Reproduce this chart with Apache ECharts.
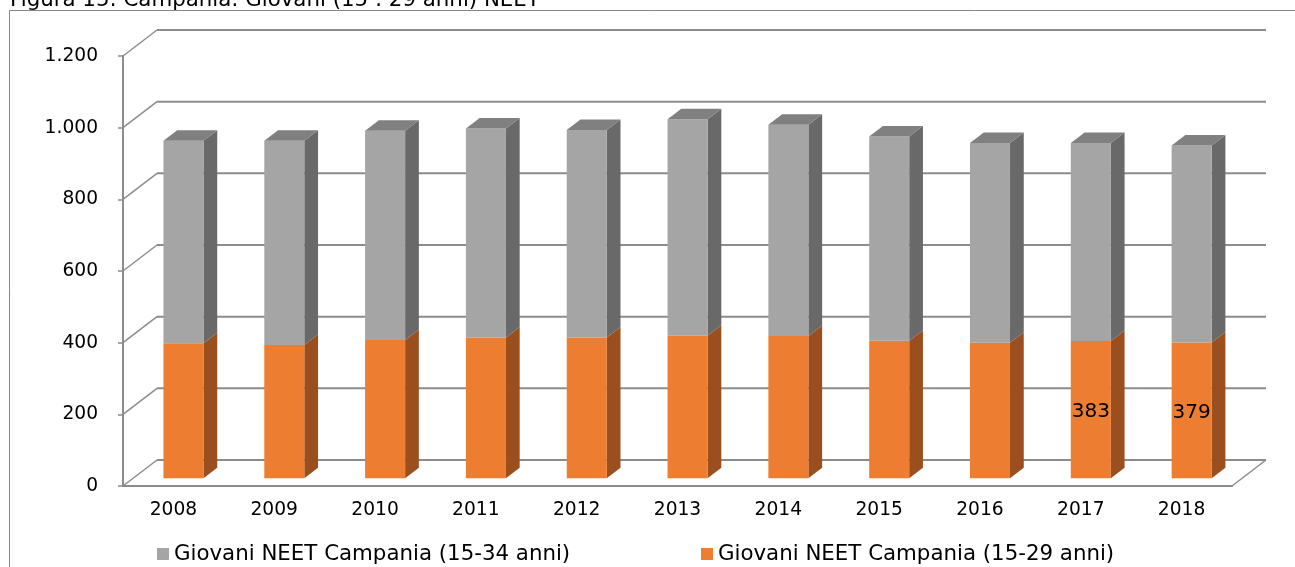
<!DOCTYPE html>
<html>
<head>
<meta charset="utf-8">
<title>Campania NEET</title>
<script src="https://cdn.jsdelivr.net/npm/echarts@6/dist/echarts.min.js"></script>
<style>
  html, body { margin: 0; padding: 0; background: #fff; }
  #chart { width: 1295px; height: 567px; }
</style>
</head>
<body>
<div id="chart"></div>
<script>
// dati (migliaia)
const years = ['2008', '2009', '2010', '2011', '2012', '2013', '2014', '2015', '2016', '2017', '2018'];
const neet1529 = [377, 372, 386, 393, 393, 398, 397, 384, 378, 383, 379];
const neet1534 = [565, 570, 584, 583, 579, 604, 590, 570, 558, 553, 550];
const yTicks = [0, 200, 400, 600, 800, 1000, 1200];
const labelledYears = ['2017', '2018'];

const name1534 = 'Giovani NEET Campania (15-34 anni)';
const name1529 = 'Giovani NEET Campania (15-29 anni)';
const FONT = '"DejaVu Sans", Verdana, sans-serif';

// profondità della "scatola" 3D
const DX = 34, DY = 26;
const F0 = 0.296, F1 = 0.70;   // posizione della colonna nella profondità
const BAR_W = 0.397;           // larghezza della faccia frontale (frazione della categoria)

function fmt(v) {
    if (v >= 1000) return Math.floor(v / 1000) + '.' + String(v % 1000).padStart(3, '0');
    return String(v);
}

function barItem(colors, withTop) {
    return function (params, api) {
        const i = api.value(0);
        const lo = api.coord([i, api.value(1)]);
        const hi = api.coord([i, api.value(2)]);
        const band = api.size([1, 0])[0];
        const w = band * BAR_W;
        const L = lo[0] + F0 * DX - w / 2;
        const R = L + w;
        const yB = lo[1] - F0 * DY;
        const yT = hi[1] - F0 * DY;
        const ddx = (F1 - F0) * DX, ddy = (F1 - F0) * DY;
        const children = [
            {
                type: 'polygon',
                shape: { points: [[R, yB], [R, yT], [R + ddx, yT - ddy], [R + ddx, yB - ddy]] },
                style: { fill: colors[1] }
            },
            {
                type: 'rect',
                shape: { x: L, y: yT, width: w, height: yB - yT },
                style: { fill: colors[0] }
            }
        ];
        if (withTop) {
            children.push({
                type: 'polygon',
                shape: { points: [[L, yT], [R, yT], [R + ddx, yT - ddy], [L + ddx, yT - ddy]] },
                style: { fill: colors[2] }
            });
        }
        if (!withTop && labelledYears.indexOf(years[i]) >= 0) {
            children.push({
                type: 'text',
                x: (L + R) / 2,
                y: (yB + yT) / 2 + 2,
                style: {
                    text: String(neet1529[i]),
                    fill: '#000',
                    font: '20px ' + FONT,
                    align: 'center',
                    verticalAlign: 'middle'
                }
            });
        }
        return { type: 'group', children: children };
    };
}

const myChart = echarts.init(document.getElementById('chart'));

const gridColor = '#8c8c8c';

const option = {
    animation: false,
    grid: { left: 123, top: 56, width: 1109, height: 430 },
    xAxis: {
        type: 'category',
        data: years,
        axisLine: { lineStyle: { color: gridColor, width: 2 } },
        axisTick: { length: 6, lineStyle: { color: gridColor, width: 1.5 } },
        axisLabel: { color: '#000', fontFamily: FONT, fontSize: 18.67, margin: 15 }
    },
    yAxis: {
        type: 'value',
        min: 0,
        max: 1200,
        interval: 200,
        axisLine: { show: true, lineStyle: { color: gridColor, width: 2 } },
        axisTick: { show: true, length: 5, lineStyle: { color: gridColor, width: 1.5 } },
        splitLine: { show: false },
        axisLabel: {
            color: '#000', fontFamily: FONT, fontSize: 18.67, margin: 25,
            padding: [6, 0, 0, 0],
            formatter: fmt
        }
    },
    legend: [
        {
            left: 157, top: 542, padding: 0, data: [name1534],
            icon: 'rect', itemWidth: 12, itemHeight: 12,
            textStyle: { color: '#000', fontFamily: FONT, fontSize: 21.33, lineHeight: 24 }
        },
        {
            left: 701, top: 542, padding: 0, data: [name1529],
            icon: 'rect', itemWidth: 12, itemHeight: 12,
            textStyle: { color: '#000', fontFamily: FONT, fontSize: 21.33, lineHeight: 24 }
        }
    ],
    graphic: [
        {
            type: 'rect', silent: true,
            shape: { x: 9.5, y: 10.5, width: 1400, height: 700 },
            style: { fill: 'none', stroke: '#868686', lineWidth: 1 }
        },
        {
            type: 'text', silent: true, x: 10, y: 0.5,
            style: {
                text: 'Figura 15: Campania: Giovani (15 : 29 anni) NEET',
                fill: '#000', font: '21.33px ' + FONT,
                verticalAlign: 'middle'
            }
        }
    ],
    series: [
        {
            // pareti e pavimento della scatola 3D
            type: 'custom',
            silent: true,
            z: 1,
            data: yTicks.map(v => [0, v]),
            encode: { x: 0, y: 1 },
            renderItem: function (params, api) {
                const cs = params.coordSys;
                const v = api.value(1);
                const y = api.coord([0, v])[1];
                const Lx = cs.x, Rx = cs.x + cs.width;
                const st = { stroke: gridColor, lineWidth: 2 };
                const kids = [
                    { type: 'line', shape: { x1: Lx, y1: y, x2: Lx + DX, y2: y - DY }, style: { stroke: gridColor, lineWidth: 1.5 } },
                    { type: 'line', shape: { x1: Lx + DX, y1: y - DY, x2: Rx + DX, y2: y - DY }, style: st }
                ];
                if (v === 0) {
                    kids.push({ type: 'line', shape: { x1: Rx, y1: y, x2: Rx + DX, y2: y - DY }, style: { stroke: gridColor, lineWidth: 1.5 } });
                }
                return { type: 'group', children: kids };
            }
        },
        {
            name: name1529,
            type: 'custom',
            z: 2,
            itemStyle: { color: '#ED7D31' },
            data: years.map((y, i) => [i, 0, neet1529[i]]),
            encode: { x: 0, y: [1, 2] },
            renderItem: barItem(['#ED7D31', '#9B4F1F', '#B9602A'], false)
        },
        {
            name: name1534,
            type: 'custom',
            z: 3,
            itemStyle: { color: '#A5A5A5' },
            data: years.map((y, i) => [i, neet1529[i], neet1529[i] + neet1534[i]]),
            encode: { x: 0, y: [1, 2] },
            renderItem: barItem(['#A5A5A5', '#696969', '#808080'], true)
        }
    ]
};

myChart.setOption(option);
</script>
</body>
</html>
